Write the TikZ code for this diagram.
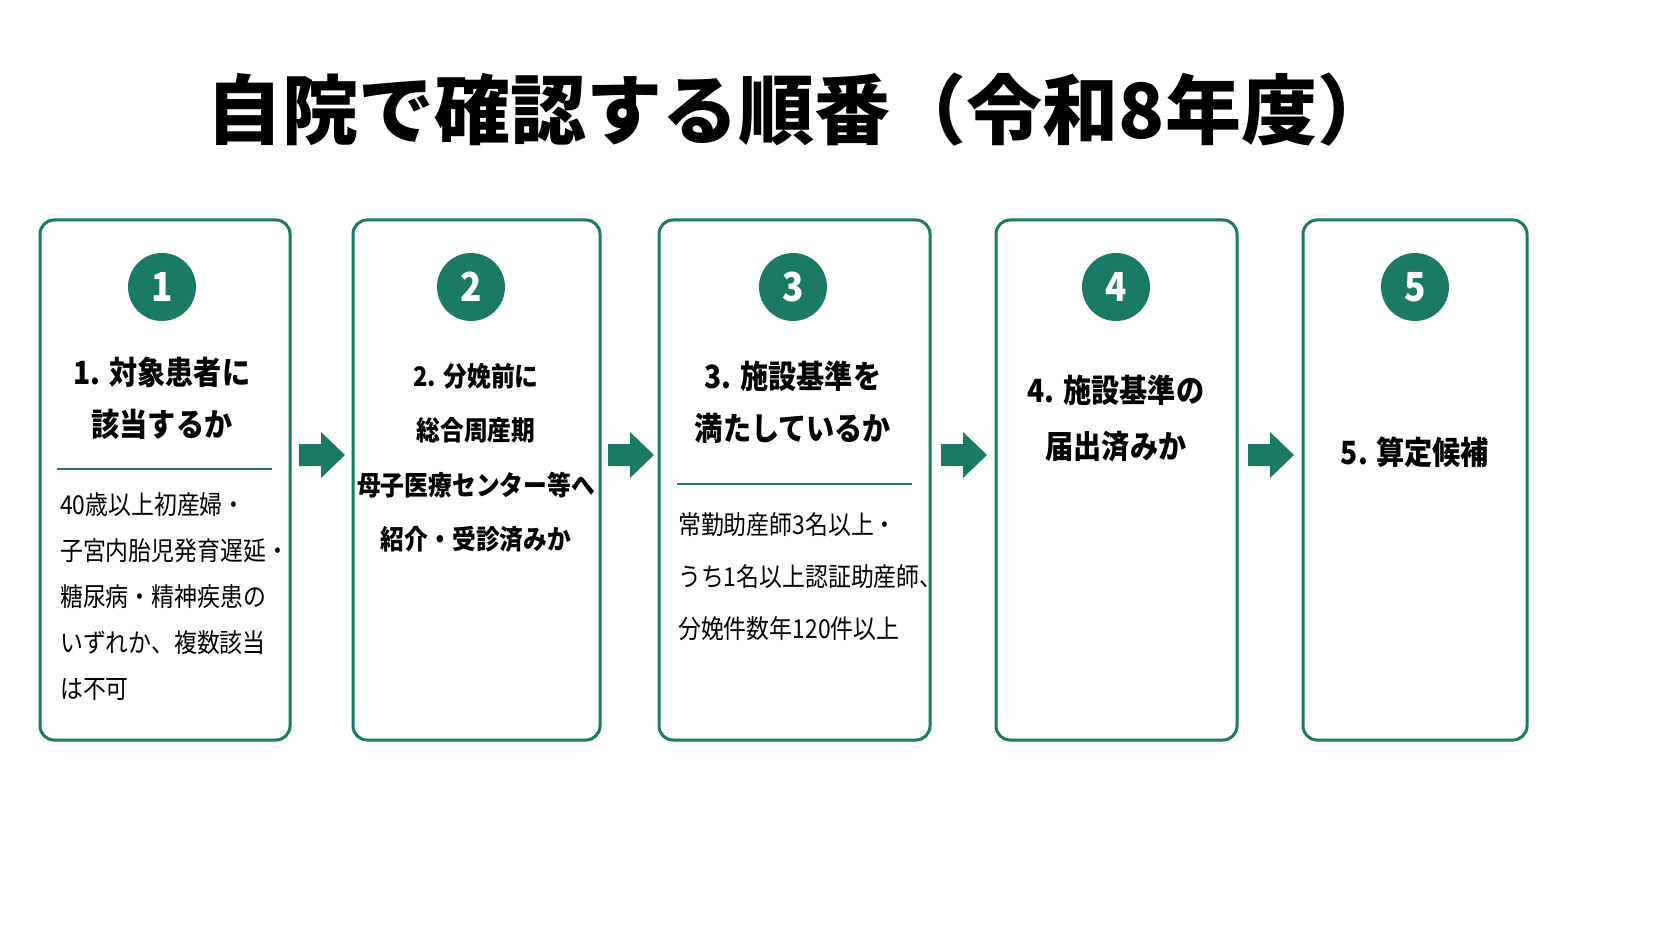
\documentclass[tikz,border=0pt]{standalone}
\usepackage{fontspec}
\setmainfont{Noto Sans CJK JP}[FakeStretch=0.88]
\newfontfamily\titlefont{Noto Sans CJK JP}
\definecolor{gr}{HTML}{1B7A66}
\begin{document}
\begin{tikzpicture}[x=1pt,y=-1pt,
 box/.style={draw=gr,line width=3pt,rounded corners=14pt},
 num/.style={circle,fill=gr,minimum size=68pt,inner sep=0pt,text=white,font=\fontsize{40}{40}\selectfont\bfseries},
 hd/.style={font=\fontsize{32}{52}\selectfont\bfseries,align=center,inner sep=0pt},
 bd/.style={font=\fontsize{26}{46}\selectfont,align=left,inner sep=0pt,anchor=north west},
 sep/.style={draw=gr,line width=2pt}]
\useasboundingbox (0,0) rectangle (1672,941);
\node[font=\titlefont\fontsize{76}{76}\selectfont\bfseries,inner sep=0pt] (title) at (800,110) {自院で確認する順番（令和8年度）};
\draw[box] (40,220) rectangle (290,740);
\draw[box] (353,220) rectangle (600,740);
\draw[box] (659,220) rectangle (930,740);
\draw[box] (996,220) rectangle (1237,740);
\draw[box] (1303,220) rectangle (1527,740);
\node[num] (n1) at (162,287) {1};
\node[num] (n2) at (471,287) {2};
\node[num] (n3) at (793,287) {3};
\node[num] (n4) at (1116,287) {4};
\node[num] (n5) at (1415,287) {5};
\node[hd] (h1) at (162,398) {1. 対象患者に\\該当するか};
\draw[sep] (57,469) -- (272,469);
\node[bd] (b1) at (60,492) {40歳以上初産婦・\\子宮内胎児発育遅延・\\糖尿病・精神疾患の\\いずれか、複数該当\\は不可};
\node[hd,font=\fontsize{27}{54.5}\selectfont\bfseries] (h2) at (476,458) {2. 分娩前に\\総合周産期\\母子医療センター等へ\\紹介・受診済みか};
\node[hd] (h3) at (793,402) {3. 施設基準を\\満たしているか};
\draw[sep] (677,484) -- (912,484);
\node[bd,font=\fontsize{26}{52}\selectfont] (b3) at (678,512) {常勤助産師3名以上・\\うち1名以上認証助産師、\\分娩件数年120件以上};
\node[hd,font=\fontsize{32}{56}\selectfont\bfseries] (h4) at (1116,418) {4. 施設基準の\\届出済みか};
\node[hd] (h5) at (1415,452) {5. 算定候補};
\coordinate (a1) at (321,455);
\coordinate (a2) at (630,455);
\coordinate (a3) at (963,455);
\coordinate (a4) at (1270,455);
\fill[gr] ([shift={(-22,-11)}]a1) -- ++(22,0) -- ++(0,-12) -- ++(24,23) -- ++(-24,23) -- ++(0,-12) -- ++(-22,0) -- cycle;
\fill[gr] ([shift={(-22,-11)}]a2) -- ++(22,0) -- ++(0,-12) -- ++(24,23) -- ++(-24,23) -- ++(0,-12) -- ++(-22,0) -- cycle;
\fill[gr] ([shift={(-22,-11)}]a3) -- ++(22,0) -- ++(0,-12) -- ++(24,23) -- ++(-24,23) -- ++(0,-12) -- ++(-22,0) -- cycle;
\fill[gr] ([shift={(-22,-11)}]a4) -- ++(22,0) -- ++(0,-12) -- ++(24,23) -- ++(-24,23) -- ++(0,-12) -- ++(-22,0) -- cycle;
\end{tikzpicture}
\end{document}
